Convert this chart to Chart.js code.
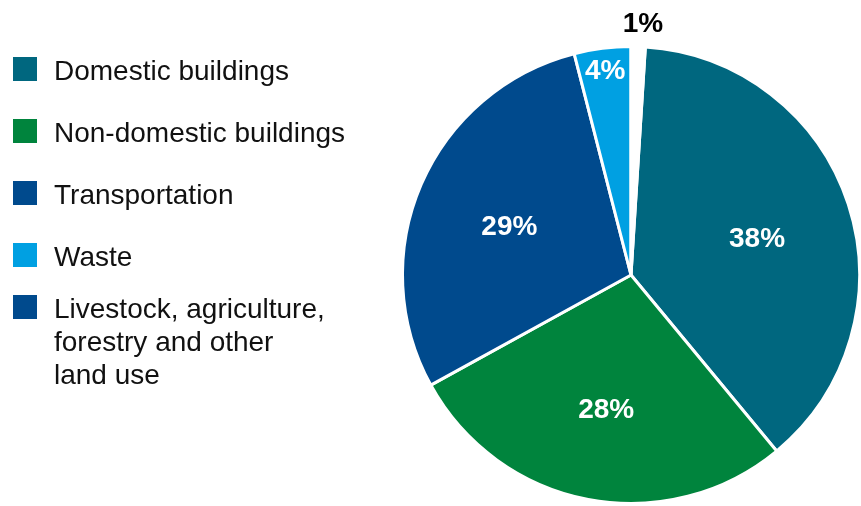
<!DOCTYPE html>
<html>
<head>
<meta charset="utf-8">
<script src="https://cdn.jsdelivr.net/npm/chart.js@4/dist/chart.umd.min.js"></script>
<style>
    html, body { margin: 0; padding: 0; background: #fff; }
    #wrap { position: relative; width: 861px; height: 506px; overflow: hidden; }
    #pie { position: absolute; left: 0; top: 0; }
    #legend {
        position: absolute; left: 13px; top: 54px;
        font-family: "Liberation Sans", Arial, sans-serif;
        font-size: 28px; line-height: 33px; color: #111;
    }
    .row { display: flex; align-items: flex-start; margin-bottom: 29px; }
    .row:last-child { margin-top: -10px; }
    .box { width: 24px; height: 24px; margin-top: 3px; margin-right: 17px; flex: none; }
</style>
</head>
<body>
<div id="wrap">
    <canvas id="pie" width="861" height="506"></canvas>
    <div id="legend"></div>
</div>
<script>
// legend order
const CATEGORIES = ['Domestic buildings', 'Non-domestic buildings', 'Transportation', 'Waste',
    ['Livestock, agriculture,', 'forestry and other', 'land use']];
const SHARES = [38, 28, 29, 4, 1];
const LEGEND_COLORS = ['#00677f', '#00843d', '#004a8d', '#00a0e2', '#004a8d'];
// the 1% slice shows as a white gap in the pie
const SLICE_COLORS = ['#00677f', '#00843d', '#004a8d', '#00a0e2', '#ffffff'];

// html legend
const legend = document.getElementById('legend');
CATEGORIES.forEach((c, i) => {
    const row = document.createElement('div');
    row.className = 'row';
    const box = document.createElement('div');
    box.className = 'box';
    box.style.background = LEGEND_COLORS[i];
    const txt = document.createElement('div');
    txt.innerHTML = (Array.isArray(c) ? c : [c]).join('<br>');
    row.appendChild(box);
    row.appendChild(txt);
    legend.appendChild(row);
});

const total = SHARES.reduce((a, b) => a + b, 0);

// percentage labels inside/outside the slices
const sliceLabels = {
    id: 'sliceLabels',
    afterDatasetsDraw(chart) {
        const ctx = chart.ctx;
        const arcs = chart.getDatasetMeta(0).data;
        ctx.save();
        ctx.font = 'bold 28px "Liberation Sans", Arial, sans-serif';
        ctx.textAlign = 'center';
        ctx.textBaseline = 'middle';
        arcs.forEach((arc, i) => {
            const { x, y, startAngle, endAngle, outerRadius } = arc.getProps(['x', 'y', 'startAngle', 'endAngle', 'outerRadius'], true);
            const mid = (startAngle + endAngle) / 2;
            const v = SHARES[i];
            let r, dx = 0, dy = 0, color = '#fff';
            if (v < 2) { r = outerRadius + 22; dx = 4; color = '#000'; }
            else if (v < 10) r = outerRadius * 0.9;
            else { r = outerRadius * 0.58; dy = 5; }
            ctx.fillStyle = color;
            ctx.fillText(v + '%', x + Math.cos(mid) * r + dx, y + Math.sin(mid) * r + dy);
        });
        ctx.restore();
    }
};

new Chart(document.getElementById('pie'), {
    type: 'pie',
    data: {
        labels: CATEGORIES.map(c => Array.isArray(c) ? c.join(' ') : c),
        datasets: [{
            data: SHARES,
            backgroundColor: SLICE_COLORS,
            borderColor: '#fff',
            borderWidth: 3
        }]
    },
    options: {
        responsive: false,
        animation: false,
        rotation: SHARES[SHARES.length - 1] / total * 360,
        layout: { padding: { left: 401, top: 44, right: -3, bottom: -2 } },
        plugins: { legend: { display: false }, tooltip: { enabled: false } }
    },
    plugins: [sliceLabels]
});
</script>
</body>
</html>
